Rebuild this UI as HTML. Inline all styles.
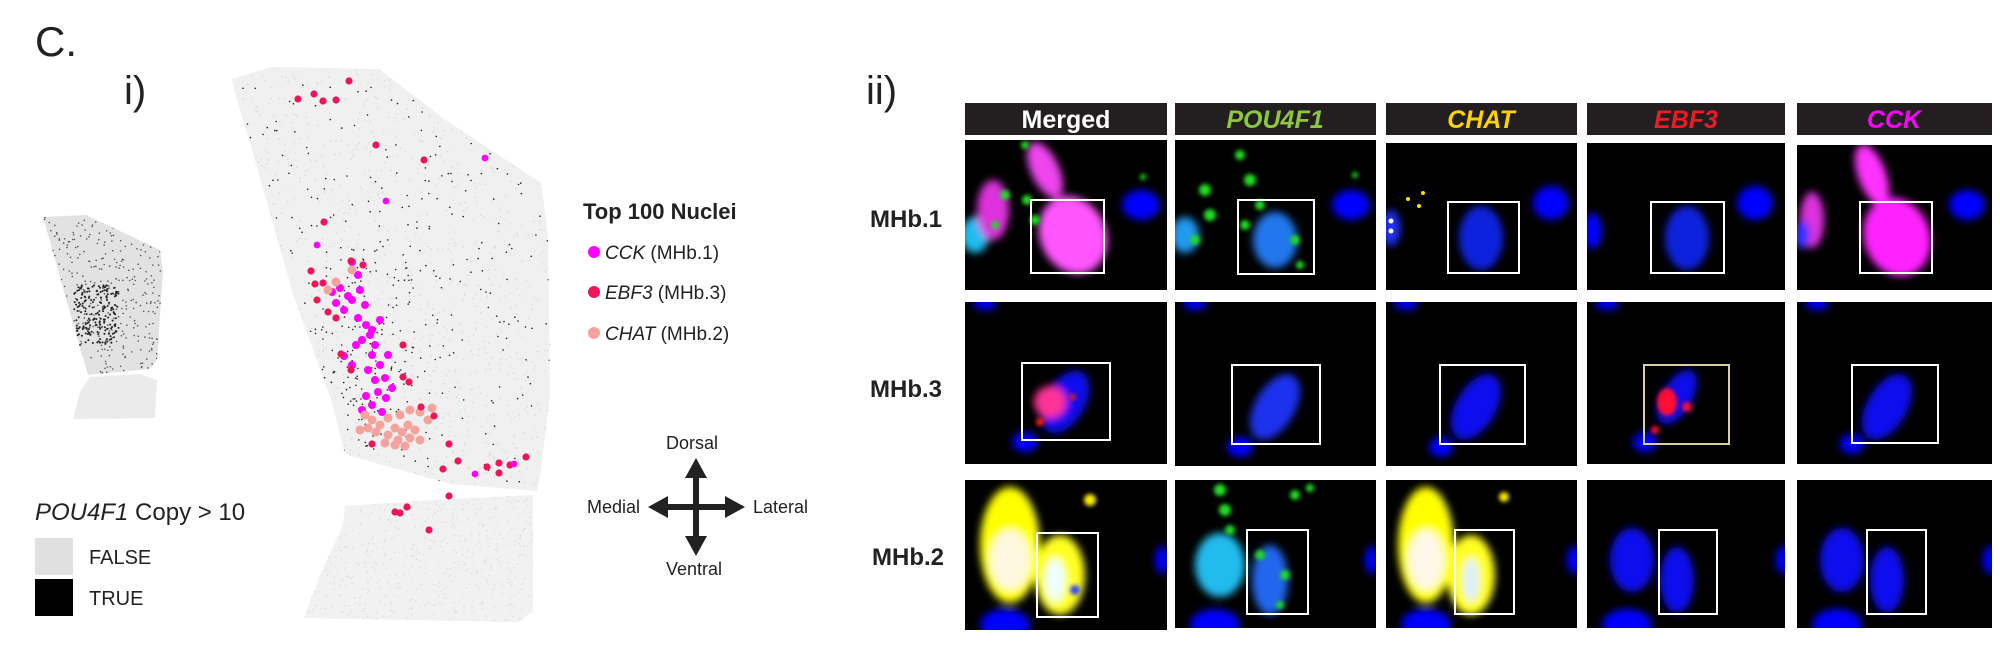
<!DOCTYPE html>
<html><head><meta charset="utf-8"><style>
html,body{margin:0;padding:0;background:#fff;}
svg{display:block;}
text{font-family:"Liberation Sans",Arial,sans-serif;}
</style></head><body>
<svg id="s" width="2000" height="651" viewBox="0 0 2000 651" xmlns="http://www.w3.org/2000/svg">
<defs>
<filter id="b" x="-50%" y="-50%" width="200%" height="200%"><feGaussianBlur stdDeviation="4"/></filter>
<filter id="b2" x="-50%" y="-50%" width="200%" height="200%"><feGaussianBlur stdDeviation="2"/></filter>
<clipPath id="cu"><polygon id="pu" points="232,79 271,67 379,69 444,119 541,183 548,235 550,395 541,469 537,491 451,484 379,464 345,454 332,402 293,294 253,153 235,93"/></clipPath>
<clipPath id="cl"><polygon points="345,506 433,500 533,495 533,611 519,622 304,618 321,573 343,525"/></clipPath>
<clipPath id="cs"><polygon points="43,217 86,215 160,250 163,271 157,360 150,369 88,375 75,330"/></clipPath>
<clipPath id="cs2"><polygon points="90,377 140,374 157,380 155,418 73,419 80,392"/></clipPath>
</defs>
<rect width="2000" height="651" fill="#fff"/>
<text x="35" y="56" font-size="42" fill="#222">C.</text>
<text x="124" y="104" font-size="40" fill="#222">i)</text>
<text x="866" y="104" font-size="40" fill="#222">ii)</text>

<polygon points="43,217 86,215 160,250 163,271 157,360 150,369 88,375 75,330" fill="#e2e2e2"/>
<polygon points="90,377 140,374 157,380 155,418 73,419 80,392" fill="#ebebeb"/>
<g id="smalldots" clip-path="url(#cs)"></g>
<polygon points="232,79 271,67 379,69 444,119 541,183 548,235 550,395 541,469 537,491 451,484 379,464 345,454 332,402 293,294 253,153 235,93" fill="#f0f0f0"/>
<polygon points="345,506 433,500 533,495 533,611 519,622 304,618 321,573 343,525" fill="#f1f1f1"/>
<g id="lowdots" clip-path="url(#cl)"></g>
<g id="bigdots" clip-path="url(#cu)"></g>
<g id="marks"></g>

<text x="35" y="520" font-size="24" fill="#222"><tspan font-style="italic">POU4F1</tspan> Copy &gt; 10</text>
<rect x="35" y="538" width="38" height="37" fill="#e0e0e0"/>
<rect x="35" y="579" width="38" height="37" fill="#000"/>
<text x="89" y="564" font-size="20" fill="#222">FALSE</text>
<text x="89" y="605" font-size="20" fill="#222">TRUE</text>

<text x="583" y="219" font-size="22" font-weight="bold" fill="#222">Top 100 Nuclei</text>
<circle cx="594" cy="252" r="6" fill="#ff00ff"/>
<circle cx="594" cy="292" r="6" fill="#ee1558"/>
<circle cx="594" cy="333" r="6" fill="#f4a29c"/>
<text x="605" y="259" font-size="19" fill="#222"><tspan font-style="italic">CCK</tspan> (MHb.1)</text>
<text x="605" y="299" font-size="19" fill="#222"><tspan font-style="italic">EBF3</tspan> (MHb.3)</text>
<text x="605" y="340" font-size="19" fill="#222"><tspan font-style="italic">CHAT</tspan> (MHb.2)</text>

<g fill="#222" stroke="#222">
<line x1="696" y1="470" x2="696" y2="545" stroke-width="6"/>
<line x1="660" y1="507" x2="733" y2="507" stroke-width="6"/>
<polygon points="696,458 685,478 707,478" stroke="none"/>
<polygon points="696,556 685,536 707,536" stroke="none"/>
<polygon points="648,507 668,496 668,518" stroke="none"/>
<polygon points="745,507 725,496 725,518" stroke="none"/>
</g>
<text x="692" y="449" font-size="18" fill="#222" text-anchor="middle">Dorsal</text>
<text x="694" y="575" font-size="18" fill="#222" text-anchor="middle">Ventral</text>
<text x="640" y="513" font-size="18" fill="#222" text-anchor="end">Medial</text>
<text x="753" y="513" font-size="18" fill="#222">Lateral</text>

<text x="870" y="227" font-size="24" font-weight="bold" fill="#222">MHb.1</text>
<text x="870" y="397" font-size="24" font-weight="bold" fill="#222">MHb.3</text>
<text x="872" y="565" font-size="24" font-weight="bold" fill="#222">MHb.2</text>

<g>
<rect x="965" y="103" width="202" height="32" fill="#231f20"/>
<rect x="1175" y="103" width="201" height="32" fill="#231f20"/>
<rect x="1386" y="103" width="191" height="32" fill="#231f20"/>
<rect x="1587" y="103" width="198" height="32" fill="#231f20"/>
<rect x="1797" y="103" width="195" height="32" fill="#231f20"/>
<text x="1066" y="128" font-size="25" font-weight="bold" fill="#fff" text-anchor="middle">Merged</text>
<text x="1275" y="128" font-size="25" font-weight="bold" font-style="italic" fill="#8dc63f" text-anchor="middle">POU4F1</text>
<text x="1481" y="128" font-size="25" font-weight="bold" font-style="italic" fill="#ffd200" text-anchor="middle">CHAT</text>
<text x="1686" y="128" font-size="25" font-weight="bold" font-style="italic" fill="#ed1c24" text-anchor="middle">EBF3</text>
<text x="1894" y="128" font-size="25" font-weight="bold" font-style="italic" fill="#ff00ff" text-anchor="middle">CCK</text>
</g>

<svg x="965" y="140" width="202" height="150"><rect width="202" height="150" fill="#000"/>
<g filter="url(#b)"><ellipse cx="10" cy="95" rx="14" ry="18" fill="#22bbee"/><ellipse cx="28" cy="70" rx="16" ry="30" fill="#dd33dd"/><ellipse cx="80" cy="30" rx="14" ry="30" fill="#ee44ee" transform="rotate(-25 80 30)"/><ellipse cx="108" cy="95" rx="33" ry="40" fill="#ff55ff" transform="rotate(-25 108 95)"/><ellipse cx="176" cy="65" rx="19" ry="15" fill="#0000ff"/></g>
<g fill="#22dd22" filter="url(#b2)"><circle cx="40" cy="55" r="5"/><circle cx="30" cy="85" r="4"/><circle cx="62" cy="60" r="5"/><circle cx="70" cy="80" r="5"/><circle cx="60" cy="5" r="4"/><circle cx="178" cy="37" r="3"/></g>
<rect x="66" y="60" width="73" height="73" fill="none" stroke="#fff" stroke-width="2"/></svg>

<svg x="1175" y="140" width="201" height="150"><rect width="201" height="150" fill="#000"/>
<g filter="url(#b)"><ellipse cx="10" cy="95" rx="14" ry="18" fill="#2299ee"/><ellipse cx="100" cy="100" rx="22" ry="28" fill="#2277ee"/><ellipse cx="176" cy="65" rx="19" ry="15" fill="#0000ff"/></g>
<g fill="#22dd22" filter="url(#b2)"><circle cx="30" cy="50" r="6"/><circle cx="35" cy="75" r="6"/><circle cx="20" cy="100" r="5"/><circle cx="65" cy="15" r="5"/><circle cx="75" cy="40" r="6"/><circle cx="85" cy="65" r="5"/><circle cx="70" cy="85" r="5"/><circle cx="120" cy="100" r="5"/><circle cx="125" cy="125" r="4"/><circle cx="180" cy="35" r="3"/></g>
<rect x="63" y="60" width="76" height="74" fill="none" stroke="#fff" stroke-width="2"/></svg>

<svg x="1386" y="143" width="191" height="147"><rect width="191" height="147" fill="#000"/>
<g filter="url(#b)"><ellipse cx="95" cy="95" rx="22" ry="32" fill="#0b20dd"/><ellipse cx="165" cy="60" rx="18" ry="17" fill="#0000ff"/><ellipse cx="5" cy="85" rx="9" ry="18" fill="#2233ff"/></g>
<g fill="#ffdd00"><circle cx="37" cy="50" r="2"/><circle cx="33" cy="63" r="2"/><circle cx="22" cy="56" r="2"/><circle cx="5" cy="78" r="2.5" fill="#fff"/><circle cx="5" cy="88" r="2.5" fill="#fff"/></g>
<rect x="62" y="59" width="71" height="71" fill="none" stroke="#fff" stroke-width="2"/></svg>

<svg x="1587" y="143" width="198" height="147"><rect width="198" height="147" fill="#000"/>
<g filter="url(#b)"><ellipse cx="100" cy="95" rx="22" ry="32" fill="#0b20dd"/><ellipse cx="168" cy="60" rx="18" ry="17" fill="#0000ff"/><ellipse cx="5" cy="88" rx="10" ry="18" fill="#0000ff"/></g>
<rect x="64" y="59" width="73" height="71" fill="none" stroke="#fff" stroke-width="2"/></svg>

<svg x="1797" y="145" width="195" height="145"><rect width="195" height="145" fill="#000"/>
<g filter="url(#b)"><ellipse cx="15" cy="75" rx="12" ry="28" fill="#dd33dd"/><ellipse cx="5" cy="90" rx="8" ry="14" fill="#3333ff"/><ellipse cx="75" cy="30" rx="14" ry="32" fill="#ff33ff" transform="rotate(-20 75 30)"/><ellipse cx="100" cy="92" rx="33" ry="40" fill="#ff22ff" transform="rotate(-20 100 92)"/><ellipse cx="170" cy="60" rx="18" ry="15" fill="#0000ff"/></g>
<rect x="63" y="57" width="72" height="71" fill="none" stroke="#fff" stroke-width="2"/></svg>

<svg x="965" y="302" width="202" height="162"><rect width="202" height="162" fill="#000"/>
<g filter="url(#b)"><ellipse cx="20" cy="2" rx="12" ry="6" fill="#0000ff"/><ellipse cx="100" cy="100" rx="20" ry="34" fill="#0a10ee" transform="rotate(30 100 100)"/><ellipse cx="85" cy="100" rx="16" ry="16" fill="#ff3399"/><ellipse cx="60" cy="140" rx="13" ry="10" fill="#0000ff"/></g>
<g filter="url(#b2)"><circle cx="75" cy="120" r="4" fill="#ff2200"/><circle cx="108" cy="95" r="3" fill="#ff2200"/></g>
<rect x="57" y="61" width="88" height="77" fill="none" stroke="#fff" stroke-width="2"/></svg>

<svg x="1175" y="302" width="201" height="164"><rect width="201" height="164" fill="#000"/>
<g filter="url(#b)"><ellipse cx="20" cy="2" rx="12" ry="6" fill="#0000ff"/><ellipse cx="100" cy="105" rx="20" ry="36" fill="#1a33ee" transform="rotate(30 100 105)"/><ellipse cx="65" cy="145" rx="13" ry="10" fill="#0000ff"/></g>
<rect x="57" y="63" width="88" height="79" fill="none" stroke="#fff" stroke-width="2"/></svg>

<svg x="1386" y="302" width="191" height="164"><rect width="191" height="164" fill="#000"/>
<g filter="url(#b)"><ellipse cx="20" cy="2" rx="12" ry="6" fill="#0000ff"/><ellipse cx="90" cy="105" rx="20" ry="36" fill="#0a10ee" transform="rotate(30 90 105)"/><ellipse cx="55" cy="145" rx="12" ry="10" fill="#0000ff"/></g>
<rect x="54" y="63" width="85" height="79" fill="none" stroke="#fff" stroke-width="2"/></svg>

<svg x="1587" y="302" width="198" height="162"><rect width="198" height="162" fill="#000"/>
<g filter="url(#b)"><ellipse cx="20" cy="2" rx="12" ry="6" fill="#0000ff"/><ellipse cx="90" cy="95" rx="15" ry="30" fill="#0a10ee" transform="rotate(30 90 95)"/><ellipse cx="58" cy="140" rx="12" ry="10" fill="#0000ff"/></g>
<g filter="url(#b2)"><ellipse cx="80" cy="100" rx="10" ry="14" fill="#ff1030"/><circle cx="100" cy="105" r="5" fill="#ff1030"/><circle cx="68" cy="128" r="4" fill="#ff1030"/></g>
<rect x="57" y="63" width="85" height="79" fill="none" stroke="#d8d0a0" stroke-width="2"/></svg>

<svg x="1797" y="302" width="195" height="162"><rect width="195" height="162" fill="#000"/>
<g filter="url(#b)"><ellipse cx="20" cy="2" rx="12" ry="6" fill="#0000ff"/><ellipse cx="90" cy="105" rx="20" ry="36" fill="#0a10ee" transform="rotate(30 90 105)"/><ellipse cx="55" cy="142" rx="12" ry="10" fill="#0000ff"/></g>
<rect x="55" y="63" width="86" height="78" fill="none" stroke="#fff" stroke-width="2"/></svg>

<svg x="965" y="480" width="202" height="150"><rect width="202" height="150" fill="#000"/>
<g filter="url(#b)"><ellipse cx="45" cy="65" rx="30" ry="58" fill="#ffff00"/><ellipse cx="45" cy="80" rx="20" ry="30" fill="#fff8e0"/><ellipse cx="95" cy="95" rx="25" ry="40" fill="#ffff22"/><ellipse cx="90" cy="100" rx="10" ry="22" fill="#eeffff"/><ellipse cx="40" cy="145" rx="25" ry="16" fill="#0000ff"/><ellipse cx="197" cy="80" rx="7" ry="14" fill="#0000ff"/></g>
<g filter="url(#b2)" fill="#ffee00"><circle cx="125" cy="20" r="6"/><circle cx="110" cy="110" r="5" fill="#3344ff"/></g>
<rect x="72" y="53" width="61" height="84" fill="none" stroke="#fff" stroke-width="2"/></svg>

<svg x="1175" y="480" width="201" height="148"><rect width="201" height="148" fill="#000"/>
<g filter="url(#b)"><ellipse cx="45" cy="85" rx="25" ry="32" fill="#22bbee"/><ellipse cx="95" cy="100" rx="18" ry="35" fill="#2266ee"/><ellipse cx="40" cy="145" rx="25" ry="16" fill="#0000ff"/><ellipse cx="197" cy="80" rx="7" ry="14" fill="#0000ff"/></g>
<g fill="#22dd22" filter="url(#b2)"><circle cx="45" cy="10" r="6"/><circle cx="50" cy="30" r="6"/><circle cx="55" cy="50" r="5"/><circle cx="120" cy="15" r="5"/><circle cx="135" cy="8" r="4"/><circle cx="85" cy="75" r="5"/><circle cx="110" cy="95" r="5"/><circle cx="105" cy="125" r="4"/></g>
<rect x="72" y="50" width="61" height="84" fill="none" stroke="#fff" stroke-width="2"/></svg>

<svg x="1386" y="480" width="191" height="148"><rect width="191" height="148" fill="#000"/>
<g filter="url(#b)"><ellipse cx="40" cy="65" rx="28" ry="58" fill="#ffff00"/><ellipse cx="40" cy="80" rx="18" ry="30" fill="#fff8e8"/><ellipse cx="85" cy="95" rx="24" ry="40" fill="#ffff22"/><ellipse cx="85" cy="100" rx="8" ry="22" fill="#ddeeff"/><ellipse cx="40" cy="145" rx="25" ry="16" fill="#0000ff"/><ellipse cx="188" cy="80" rx="7" ry="14" fill="#0000ff"/></g>
<circle cx="118" cy="17" r="5" fill="#ffee00" filter="url(#b2)"/>
<rect x="69" y="50" width="59" height="84" fill="none" stroke="#fff" stroke-width="2"/></svg>

<svg x="1587" y="480" width="198" height="148"><rect width="198" height="148" fill="#000"/>
<g filter="url(#b)"><ellipse cx="45" cy="80" rx="22" ry="32" fill="#0a10ee"/><ellipse cx="90" cy="100" rx="17" ry="33" fill="#0a10ee"/><ellipse cx="40" cy="145" rx="25" ry="16" fill="#0000ff"/><ellipse cx="196" cy="80" rx="7" ry="14" fill="#0000ff"/></g>
<rect x="72" y="50" width="58" height="84" fill="none" stroke="#fff" stroke-width="2"/></svg>

<svg x="1797" y="480" width="195" height="148"><rect width="195" height="148" fill="#000"/>
<g filter="url(#b)"><ellipse cx="45" cy="80" rx="22" ry="32" fill="#0a10ee"/><ellipse cx="90" cy="100" rx="17" ry="33" fill="#0a10ee"/><ellipse cx="40" cy="145" rx="25" ry="16" fill="#0000ff"/><ellipse cx="193" cy="80" rx="7" ry="14" fill="#0000ff"/></g>
<rect x="70" y="50" width="59" height="84" fill="none" stroke="#fff" stroke-width="2"/></svg>
</svg>
<script>
(function(){
var NS="http://www.w3.org/2000/svg",seed=7;
function r(){seed=(seed*16807)%2147483647;return (seed-1)/2147483646;}
function dot(g,x,y,rad,c){var e=document.createElementNS(NS,"circle");e.setAttribute("cx",x.toFixed(1));e.setAttribute("cy",y.toFixed(1));e.setAttribute("r",rad);e.setAttribute("fill",c);g.appendChild(e);}
var big=document.getElementById("bigdots"),sm=document.getElementById("smalldots"),mk=document.getElementById("marks"),low=document.getElementById("lowdots");
for(var i=0;i<1200;i++){dot(big,230+r()*322,65+r()*430,0.8,"#dadada");}
for(i=0;i<600;i++){dot(low,300+r()*235,495+r()*130,0.8,"#dedede");}
for(i=0;i<380;i++){dot(big,240+r()*310,80+r()*410,0.8,"#222");}
for(i=0;i<130;i++){dot(big,320+r()*90,250+r()*200,0.8,"#222");}
for(i=0;i<400;i++){dot(sm,43+r()*122,215+r()*160,0.8,"#555");}
for(i=0;i<200;i++){dot(sm,74+r()*45,285+r()*60,1,"#222");}
var mg=[[332,292],[340,288],[348,296],[336,303],[344,310],[352,300],[360,290],[365,305],[358,318],[366,325],[370,335],[375,345],[362,340],[372,355],[380,365],[368,370],[375,380],[385,378],[378,392],[366,396],[372,405],[386,398],[392,388],[362,410],[352,365],[344,356],[356,345],[380,320],[358,275],[352,262],[372,330],[388,355],[382,412]];
mg.forEach(function(p){dot(mk,p[0],p[1],4,"#ff00ff");});
var sal=[[365,415],[372,420],[380,425],[388,418],[395,428],[402,432],[408,425],[415,430],[420,440],[410,438],[398,440],[388,435],[376,432],[368,428],[360,430],[400,415],[410,410],[420,412],[428,420],[432,408],[395,445],[405,446],[385,443],[336,282],[328,290],[352,270]];
sal.forEach(function(p){dot(mk,p[0],p[1],4.5,"#f4a29c");});
var red=[[349,81],[298,99],[314,94],[323,101],[336,100],[376,145],[424,160],[324,222],[311,271],[351,261],[363,265],[315,284],[323,283],[317,300],[403,345],[341,354],[351,370],[403,377],[409,382],[421,407],[434,416],[372,444],[449,444],[458,461],[443,469],[487,467],[499,463],[499,473],[510,465],[526,457],[449,496],[395,512],[400,513],[407,507],[429,530],[328,312],[336,318]];
red.forEach(function(p){dot(mk,p[0],p[1],3.6,"#ee1558");});
[[485,158],[386,201],[317,245],[475,474],[514,464]].forEach(function(p){dot(mk,p[0],p[1],3.4,"#ff00ff");});
})();
</script>
</body></html>
